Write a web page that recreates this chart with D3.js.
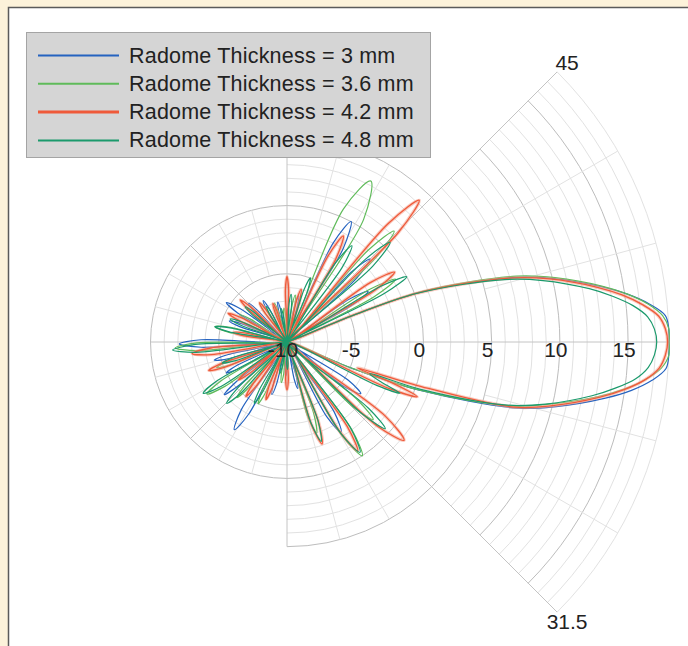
<!DOCTYPE html>
<html>
<head>
<meta charset="utf-8">
<script src="https://cdn.jsdelivr.net/npm/d3@7"></script>
<style>
    body { margin: 0; background: #fcf2da; }
    svg { display: block; }
    text { font-family: "Liberation Sans", Arial, sans-serif; fill: #222; }
</style>
</head>
<body>
<div id="chart"></div>
<script>
// Radiation patterns, [angle in degrees (CCW from boresight), gain dB]
const pattern3mm = [
    [-24,-30],[-22,-4.8],[-20,0.4],[-16,7.6],[-13.5,10.3],[-10,13.7],[-8,15.5],[-6,16.9],[-4,17.85],[-2,18.25],[0,18.4],[2,18.25],[4,17.8],[6,16.7],[8,15.2],[10,13.4],[13.5,10.0],[16,7.2],[20.5,0.5],[22,-4.8],[24,-30],
    [29.5,-4.4],[32,-3],[34.5,-4.4],[38,-30],
    [42.5,-3.1],[45,-1.4],[47.5,-3.1],[53,-30],
    [59,-2],[62,0],[65,-2],[69,-30],
    [74,-7.2],[76,-6.5],[78,-7.2],[82,-30],
    [86,-8],[88,-7.5],[90,-8],[95,-30],
    [101,-7.6],[103,-7],[105,-7.6],[111,-30],
    [118,-7.2],[120,-6.5],[122,-7.2],[128,-30],
    [133,-6.8],[135,-6],[137,-6.8],[141,-30],
    [144.5,-5.8],[147,-4.7],[149.5,-5.8],[154,-30],
    [158,-6.4],[160,-5.5],[162,-6.4],[168,-30],
    [178.5,-3.7],[181,-2.1],[183.5,-3.7],[188,-30],
    [192,-5.6],[194,-4.5],[196,-5.6],[200,-30],
    [205,-6],[207,-5],[209,-6],[214,-30],
    [218,-5.3],[220,-4],[222,-5.3],[229,-30],
    [236,-4],[239,-2.5],[242,-4],[247,-30],
    [252,-6.8],[254,-6],[256,-6.8],[261,-30],
    [266,-8],[268,-7.5],[270,-8],[276,-30],
    [281,-7.2],[283,-6.5],[285,-7.2],[292,-30],
    [298,-3.8],[301,-2.3],[304,-3.8],[313,-30],
    [322,-4.7],[325,-3.4],[328,-4.7]
];

const pattern36mm = [
    [-24,-30],[-22,-5],[-20,0.2],[-16,7.0],[-13.5,9.6],[-10,13.1],[-8,14.9],[-6,16.4],[-4,17.5],[-2,18.05],[0,18.2],[2,18.05],[4,17.6],[6,16.6],[8,15.2],[10,13.5],[13.5,10.2],[16,7.5],[20.5,0.6],[22,-4.8],[24,-30],
    [27.5,-2.8],[30,-0.8],[32.5,-2.8],[38,-30],
    [43.5,-1],[46,1.3],[48.5,-1],[54,-30],
    [58,0.6],[62.5,3.3],[67,0.6],[72,-30],
    [78,-7.2],[80,-6.5],[82,-7.2],[88,-30],
    [93,-8],[95,-7.5],[97,-8],[102,-30],
    [106,-7.6],[108,-7],[110,-7.6],[116,-30],
    [123,-7.2],[125,-6.5],[127,-7.2],[137,-30],
    [148,-6.8],[150,-6],[152,-6.8],[159,-30],
    [165.5,-5.7],[168,-4.6],[170.5,-5.7],[175,-30],
    [180.5,-3.4],[183,-1.8],[185.5,-3.4],[192,-30],
    [198,-5.6],[200,-4.5],[202,-5.6],[207,-30],
    [210.5,-4.4],[213,-3],[215.5,-4.4],[221,-30],
    [226,-5.6],[228,-4.5],[230,-5.6],[237,-30],
    [243,-6],[245,-5],[247,-6],[254,-30],
    [260,-7.6],[262,-7],[264,-7.6],[275,-30],
    [285.5,-4.4],[288,-3],[290.5,-4.4],[296,-30],
    [300.5,-2],[303.5,0],[306.5,-2],[311,-30],
    [315.5,-3.2],[318,-1.5],[320.5,-3.2]
];

const pattern42mm = [
    [-27,-30],[-24.5,-1.8],[-22.8,0.35],[-21.3,-1.6],[-20.3,-4.5],[-18.5,0],[-16,7.3],[-13.5,10.0],[-10,13.3],[-8,15.0],[-6,16.4],[-4,17.35],[-2,17.75],[0,17.9],[2,17.75],[4,17.3],[6,16.2],[8,14.8],[10,13.1],[13.5,9.8],[16,7.0],[20.5,0.3],[22,-4.8],[24,-30],
    [30.5,-2.5],[33,-0.6],[35.5,-2.5],[40,-30],
    [44.5,1.4],[47,4.2],[49.5,1.4],[55,-30],
    [59.5,-3],[62,-1.2],[64.5,-3],[69,-30],
    [73,-6.8],[75,-6],[77,-6.8],[82,-30],
    [88.2,-6.2],[90,-5.2],[91.8,-6.2],[97,-30],
    [108,-7.6],[110,-7],[112,-7.6],[118,-30],
    [123,-7.2],[125,-6.5],[127,-7.2],[132,-30],
    [136,-6.3],[138,-5.4],[140,-6.3],[146,-30],
    [152,-6.2],[154,-5.2],[156,-6.2],[162,-30],
    [168,-6.8],[170,-6],[172,-6.8],[179,-30],
    [184.5,-4.4],[187,-3],[189.5,-4.4],[194,-30],
    [198,-5.1],[200,-3.9],[202,-5.1],[209,-30],
    [216,-6.4],[218,-5.5],[220,-6.4],[226,-30],
    [231,-6],[233,-5],[235,-6],[242,-30],
    [248,-6.4],[250,-5.5],[252,-6.4],[260,-30],
    [268,-7.2],[270,-6.5],[272,-7.2],[280,-30],
    [286.5,-3.7],[289,-2.1],[291.5,-3.7],[296,-30],
    [300.5,-2.4],[303,-0.5],[305.5,-2.4],[311,-30],
    [317,-1],[320,1.2],[323,-1]
];

const pattern48mm = [
    [-27.5,-30],[-25.8,-2.7],[-24.4,-0.9],[-23,-2.5],[-21,-3.5],[-19.5,0.4],[-16,6.8],[-13.5,9.5],[-10,12.7],[-8,14.3],[-6,15.7],[-4,16.55],[-2,16.95],[0,17.1],[2,16.95],[4,16.5],[6,15.5],[8,14.1],[10,12.5],[13.5,9.3],[16,6.6],[20.5,0.2],[22,-5],[24.5,-30],
    [26.5,-2],[28.6,0],[30.7,-2],[36,-30],
    [41.5,-1.6],[44,0.5],[46.5,-1.6],[51,-30],
    [53.5,-3.2],[56,-1.5],[58.5,-3.2],[63,-30],
    [68,-6],[70,-5],[72,-6],[78,-30],
    [83,-7.2],[85,-6.5],[87,-7.2],[93,-30],
    [98,-8],[100,-7.5],[102,-8],[110,-30],
    [118,-7.6],[120,-7],[122,-7.6],[130,-30],
    [138,-6.8],[140,-6],[142,-6.8],[149,-30],
    [156,-6.4],[158,-5.5],[160,-6.4],[163,-30],
    [166,-5.7],[168,-4.6],[170,-5.7],[176,-30],
    [181.5,-3.3],[184,-1.6],[186.5,-3.3],[191,-30],
    [196,-6],[198,-5],[200,-6],[205,-30],
    [209,-4.2],[211.5,-2.8],[214,-4.2],[218.5,-30],
    [223,-5],[225.5,-3.7],[228,-5],[234,-30],
    [240,-5.9],[242,-4.9],[244,-5.9],[250,-30],
    [255,-8.1],[257,-7.6],[259,-8.1],[264,-30],
    [269,-8.4],[271,-8],[273,-8.4],[280,-30],
    [286.5,-3.8],[289,-2.3],[291.5,-3.8],[296,-30],
    [300.5,-2.2],[303.5,-0.3],[306.5,-2.2],[311,-30],
    [316.3,-2.3],[318.6,-0.4],[320.9,-2.3]
];

const seriesNames = ['Radome Thickness = 3 mm', 'Radome Thickness = 3.6 mm', 'Radome Thickness = 4.2 mm', 'Radome Thickness = 4.8 mm'];
const seriesColors = ['#2563c0', '#5fbb5a', '#ef5a3a', '#1b9a6c'];
const seriesData = [pattern3mm, pattern36mm, pattern42mm, pattern48mm];

const magTicks = [-10, -5, 0, 5, 10, 15];
const magRange = [-10, 18];
// auto-refined grid: angular sectors and the magnitude each reaches
const sectorFrom = [-45, 45, -90, 90];
const sectorTo = [45, 90, -45, 270];
const sectorMax = [18, 5, 5, 0];
const spanLabels = [{ text: '45', angle: 45 }, { text: '31.5', angle: -45 }];

const W = 688, H = 646;
const cx = 287, cy = 342;

const svg = d3.select('#chart').append('svg')
    .attr('width', W)
    .attr('height', H);

// panel with its border
svg.append('rect')
    .attr('x', 8.5).attr('y', 7.5)
    .attr('width', W).attr('height', H)
    .attr('fill', '#fff')
    .attr('stroke', '#5a5a5a')
    .attr('stroke-width', 1.5);

const r = d3.scaleLinear()
    .domain(magRange)
    .range([0, 382])
    .clamp(true);

const rad = deg => deg * Math.PI / 180;
const px = (deg, rr) => cx + rr * Math.cos(rad(deg));
const py = (deg, rr) => cy - rr * Math.sin(rad(deg));

const grid = svg.append('g').attr('class', 'grid');

// Rings, drawn only inside the sectors that reach them
d3.range(magRange[0] + 1, magRange[1] + 1).forEach(v => {
    const major = v % 5 === 0;
    sectorFrom.forEach((from, i) => {
        if (v > sectorMax[i]) return;
        const p = d3.path();
        const rr = r(v);
        p.moveTo(px(from, rr), py(from, rr));
        p.arc(cx, cy, rr, -rad(from), -rad(sectorTo[i]), true);
        grid.append('path')
            .attr('d', p.toString())
            .attr('fill', 'none')
            .attr('stroke', major ? '#bdbdbd' : '#e2e2e2')
            .attr('stroke-width', 1);
    });
});

// Spokes every 15 degrees
const inSector = (a, i) => {
    let t = a;
    while (t < sectorFrom[i]) t += 360;
    while (t > sectorFrom[i] + 360) t -= 360;
    return t >= sectorFrom[i] - 1e-6 && t <= sectorTo[i] + 1e-6;
};
d3.range(0, 360, 15).forEach(a => {
    const outer = d3.max(sectorFrom.map((f, i) => inSector(a, i) || inSector(a - 360, i) ? sectorMax[i] : magRange[0]));
    const major = a % 45 === 0;
    const aa = a > 180 ? a - 360 : a;
    const inner = major ? magRange[0] : (Math.abs(aa) < 45 ? 5 : -5);
    grid.append('line')
        .attr('x1', px(a, r(inner))).attr('y1', py(a, r(inner)))
        .attr('x2', px(a, r(outer))).attr('y2', py(a, r(outer)))
        .attr('stroke', major ? '#c4c4c4' : '#e2e2e2')
        .attr('stroke-width', 1);
});

// Patterns
const line = d3.lineRadial()
    .angle(d => rad(90 - d[0]))
    .radius(d => r(d[1]))
    .curve(d3.curveCatmullRomClosed.alpha(0.5));

const plot = svg.append('g')
    .attr('transform', `translate(${cx},${cy})`);

seriesData.forEach((pts, i) => {
    if (i === 2) {
        // the 4.2 mm trace is rendered soft and wide
        plot.append('path')
            .attr('d', line(pts))
            .attr('fill', 'none')
            .attr('stroke', '#f4a08c')
            .attr('stroke-width', 3.4)
            .attr('opacity', 0.55);
    }
    plot.append('path')
        .attr('d', line(pts))
        .attr('fill', 'none')
        .attr('stroke', seriesColors[i])
        .attr('stroke-width', i === 2 ? 1.3 : 1.2)
        .attr('stroke-linejoin', 'round');
});

// Magnitude tick labels along boresight
svg.append('g')
    .selectAll('text')
    .data(magTicks)
    .enter()
    .append('text')
    .attr('x', d => cx + r(d) - 4)
    .attr('y', cy + 15)
    .attr('text-anchor', 'middle')
    .style('font-size', '21px')
    .text(d => d);

// Span labels at sector edges
svg.append('g')
    .selectAll('text')
    .data(spanLabels)
    .enter()
    .append('text')
    .attr('x', d => px(d.angle, r(magRange[1])) + 10)
    .attr('y', d => d.angle > 0 ? py(d.angle, r(magRange[1])) - 2 : py(d.angle, r(magRange[1])) + 17)
    .attr('text-anchor', 'middle')
    .style('font-size', '21px')
    .text(d => d.text);

// Legend
const legend = svg.append('g').attr('class', 'chart-legend');
legend.append('rect')
    .attr('x', 26.5).attr('y', 32.5)
    .attr('width', 404).attr('height', 125)
    .attr('fill', '#d5d5d5')
    .attr('stroke', '#a4a4a4')
    .attr('stroke-width', 1);

seriesNames.forEach((name, i) => {
    const y = 62.5 + i * 28.3;
    legend.append('line')
        .attr('x1', 38).attr('x2', 119)
        .attr('y1', y - 7).attr('y2', y - 7)
        .attr('stroke', seriesColors[i])
        .attr('stroke-width', i === 2 ? 3 : 2);
    legend.append('text')
        .attr('x', 129)
        .attr('y', y)
        .style('font-size', '21.5px')
        .style('letter-spacing', '0.2px')
        .text(name);
});
</script>
</body>
</html>
